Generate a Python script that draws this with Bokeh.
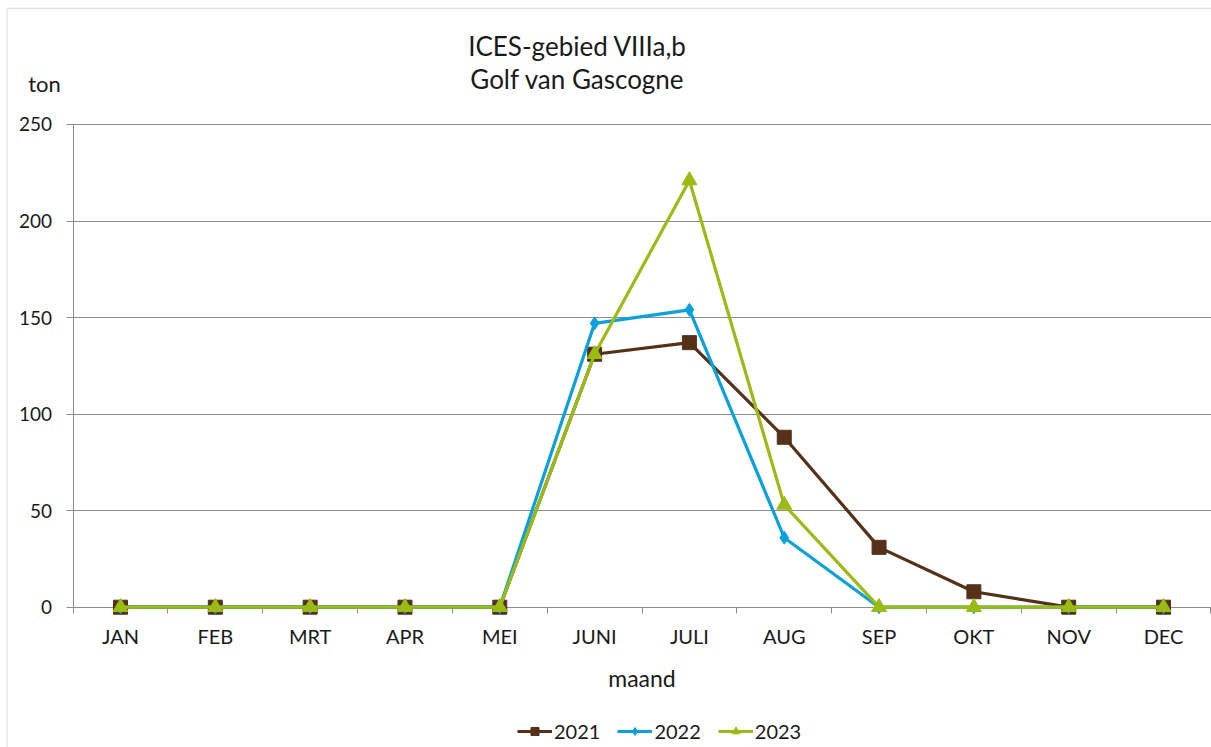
from bokeh.plotting import figure
from bokeh.models import Range1d, FixedTicker, Label, Legend, LegendItem, BoxAnnotation
from bokeh.embed import file_html
from bokeh.resources import INLINE

months = ["JAN", "FEB", "MRT", "APR", "MEI", "JUNI", "JULI", "AUG", "SEP", "OKT", "NOV", "DEC"]
y2021 = [0, 0, 0, 0, 0, 131, 137, 88, 31, 8, 0, 0]
y2022 = [0, 0, 0, 0, 0, 147, 154, 36, 0, 0, 0, 0]
y2023 = [0, 0, 0, 0, 0, 131, 221, 53, 0, 0, 0, 0]
y_ticks = [0, 50, 100, 150, 200, 250]
title_lines = ["ICES-gebied VIIIa,b", "Golf van Gascogne"]
unit_label = "ton"
x_label = "maand"

FONT = "Lato"
GRID = "#8c8c8c"
TXT = "#1a1a1a"

# canvas / layout geometry (pixels)
W, H = 1211, 747
X0_PX, XSTEP_PX = 72.6, 94.82      # left edge of plot area, width of one month
Y0_PX, YSCALE = 606.7, 1.931       # pixel row of value 0, pixels per ton

def dx(px):
    return (px - X0_PX) / XSTEP_PX

def dy(py):
    return (Y0_PX - py) / YSCALE

xs = [i + 0.5 for i in range(len(months))]

p = figure(width=W, height=H, output_backend="svg", toolbar_location=None,
           x_range=Range1d(dx(0), dx(W)), y_range=Range1d(dy(H), dy(0)),
           min_border=0, min_border_left=0, min_border_right=0,
           min_border_top=0, min_border_bottom=0)
p.outline_line_color = None
p.background_fill_color = "white"
p.border_fill_color = "white"
p.xgrid.grid_line_color = None
p.ygrid.grid_line_color = None

# x axis, drawn at value 0
xa = p.xaxis[0]
xa.fixed_location = 0
xa.bounds = (0, len(months))
xa.ticker = FixedTicker(ticks=xs, minor_ticks=list(range(len(months) + 1)))
xa.major_label_overrides = {x: m for x, m in zip(xs, months)}
xa.major_tick_out = 0
xa.major_tick_in = 0
xa.minor_tick_out = 6
xa.minor_tick_in = 0
xa.minor_tick_line_color = GRID
xa.axis_line_color = GRID
xa.major_label_standoff = 11
xa.major_label_text_font = FONT
xa.major_label_text_font_size = "20px"
xa.major_label_text_color = TXT
xa.axis_label = x_label
xa.axis_label_text_font = FONT
xa.axis_label_text_font_size = "23px"
xa.axis_label_text_font_style = "normal"
xa.axis_label_text_color = TXT
xa.axis_label_standoff = 12
xa.level = "underlay"

# y axis, drawn at the left edge of the plot area; its ticks reach across as grid lines
ya = p.yaxis[0]
ya.fixed_location = 0
ya.bounds = (0, 250)
ya.ticker = FixedTicker(ticks=y_ticks)
ya.major_tick_out = 7
ya.major_tick_in = int(round(len(months) * XSTEP_PX))
ya.minor_tick_line_color = None
ya.major_tick_line_color = GRID
ya.axis_line_color = GRID
ya.major_label_standoff = 14
ya.major_label_text_font = FONT
ya.major_label_text_font_size = "19px"
ya.major_label_text_color = TXT
ya.level = "underlay"

# chart border (left and top)
p.add_layout(BoxAnnotation(left=dx(6.5), top=dy(8), right=dx(W + 20), bottom=dy(H + 20),
                           fill_alpha=0, line_color="#9a9a9a", line_width=1.3, level="underlay"))

# series
series = [
    ("2021", y2021, "#55311a", "square", 14),
    ("2022", y2022, "#0aa0dc", "diamond", 13),
    ("2023", y2023, "#9bbb14", "triangle", 15),
]
items = []
for name, ys, col, mk, sz in series:
    l = p.line(xs, ys, line_color=col, line_width=3.2)
    s = p.scatter(xs, ys, marker=mk, size=sz, fill_color=col, line_color=col)
    items.append(LegendItem(label=name, renderers=[l, s]))

legend = Legend(items=items, orientation="horizontal", location=(517, 4),
                border_line_color=None, background_fill_alpha=0,
                padding=0, margin=0, spacing=17, glyph_width=35, glyph_height=20,
                label_height=20, label_text_font=FONT, label_text_font_size="20px",
                label_text_color=TXT, label_standoff=2)
p.add_layout(legend, "center")

# title and unit label
for txt, py in zip(title_lines, [45, 78]):
    p.add_layout(Label(x=dx(577), y=dy(py), text=txt, text_align="center", text_baseline="middle",
                       text_font=FONT, text_font_size="26px", text_color=TXT))
p.add_layout(Label(x=dx(44), y=dy(83), text=unit_label, text_align="center", text_baseline="middle",
                   text_font=FONT, text_font_size="22px", text_color=TXT))

open("out.html", "w").write(file_html(p, INLINE))
